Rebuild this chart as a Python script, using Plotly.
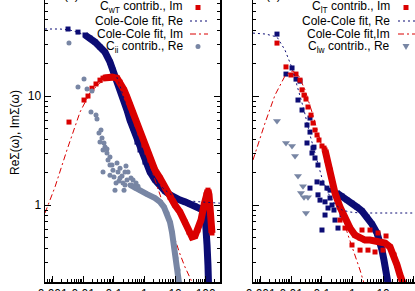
"""
Two-panel log-log plot of Re/Im Sigma(omega) contributions with Cole-Cole fits.
"""

import plotly.graph_objects as go

NAVY = "#0c0c74"
RED = "#da0000"
GREY = "#7886a4"

# ---------------- panel (a) ----------------
# C_wT contribution, Re (navy squares): sparse points + dense band
a_re_w = [0.00318, 0.00673]
a_re_v = [41.2, 38.6]
a_re_band_w = [0.0114, 0.0166, 0.0242, 0.0352, 0.0514, 0.0748, 0.0937, 0.127, 0.159, 0.199,
               0.269, 0.337, 0.423, 0.571, 0.716, 1.04, 1.52, 2.21, 3.22, 4.70,
               6.84, 9.96, 14.5, 21.1, 30.8, 44.9, 65.3, 81.8, 95.2, 103,
               111, 119, 124]
a_re_band_v = [36.3, 34.0, 31.3, 28.2, 25.3, 20.5, 17.3, 14.0, 11.8, 9.79,
               7.44, 6.02, 5.09, 3.78, 3.20, 2.48, 2.01, 1.70, 1.49, 1.34,
               1.24, 1.16, 1.11, 1.07, 1.02, 0.979, 0.939, 0.900, 0.827, 0.656,
               0.430, 0.282, 0.19]

# C_wT contribution, Im (red squares)
a_im_w = [0.00342, 0.0106, 0.0143, 0.0193, 0.0261, 0.0352]
a_im_v = [5.77, 9.19, 10.0, 11.8, 12.9, 14.0]
a_im_band_w = [0.0442, 0.0597, 0.0870, 0.127, 0.159, 0.215, 0.269, 0.337, 0.423, 0.571,
               0.716, 0.966, 1.21, 1.52, 2.21, 3.22, 4.70, 6.84, 9.96, 14.5,
               21.1, 28.6, 35.8, 44.9, 56.2, 70.5, 88.3, 103, 119, 129,
               139, 150, 161]
a_im_band_v = [14.6, 14.9, 14.9, 14.6, 13.4, 11.4, 9.79, 8.27, 6.98, 5.53,
               4.58, 3.55, 3.06, 2.59, 2.09, 1.77, 1.43, 1.18, 1.00, 0.863,
               0.698, 0.565, 0.509, 0.520, 0.590, 0.728, 1.00, 1.24, 1.37, 1.24,
               0.958, 0.728, 0.554]

# Cole-Cole fits
a_refit_w = [0.000562, 0.00174, 0.00369, 0.00784, 0.0166, 0.0352, 0.0644, 0.109, 0.159, 0.231,
             0.337, 0.491, 0.716, 1.04, 1.52, 2.21, 3.22, 4.70, 6.84, 9.96,
             14.5, 30.8, 65.3, 139, 294]
a_refit_v = [41.2, 41.2, 40.3, 37.8, 34.0, 28.7, 22.8, 16.6, 12.4, 8.81,
             6.28, 4.48, 3.33, 2.59, 2.09, 1.77, 1.53, 1.37, 1.26, 1.18,
             1.14, 1.09, 1.07, 1.05, 1.04]
a_imfit_w = [0.000562, 0.00119, 0.00294, 0.00784, 0.0166, 0.0352, 0.0748, 0.127, 0.199, 0.337,
             0.491, 0.716, 1.04, 1.52, 2.21, 3.22, 4.70, 6.84, 9.96, 14.5,
             21.1, 30.8, 38.6]
a_imfit_v = [0.845, 1.46, 3.20, 7.13, 10.7, 13.2, 14.3, 14.0, 11.8, 8.63,
             6.28, 4.39, 3.20, 2.33, 1.70, 1.24, 0.900, 0.656, 0.477, 0.355,
             0.270, 0.214, 0.188]

# C_ii contribution, Re (grey circles)
a_ii_w = [0.00342, 0.0106, 0.00673, 0.0133, 0.0193, 0.0179, 0.0261, 0.0281, 0.0380, 0.0327,
          0.0410, 0.0476, 0.0514, 0.0597, 0.0352, 0.0442, 0.0597, 0.0748, 0.0870, 0.0442,
          0.127, 0.109, 0.0937, 0.137, 0.159, 0.185, 0.231, 0.269, 0.199, 0.147,
          0.0748, 0.0644, 0.101, 0.249, 0.290, 0.363, 0.231, 0.423, 0.159, 0.118,
          0.530, 0.615, 0.215, 0.0748]
a_ii_v = [30.6, 14.3, 12.1, 11.6, 11.1, 7.13, 6.69, 6.15, 4.88, 4.58,
          4.12, 3.71, 3.40, 3.26, 3.78, 3.20, 3.00, 2.76, 2.33, 2.01,
          2.43, 1.37, 2.09, 2.01, 2.18, 1.85, 2.01, 1.70, 1.59, 1.66,
          2.33, 2.59, 1.81, 2.28, 2.01, 1.77, 1.53, 1.70, 1.77, 1.59,
          1.59, 1.49, 1.37, 1.88]
a_ii_band_w = [0.337, 0.491, 0.716, 1.21, 2.21, 3.22, 4.36, 5.46, 6.84, 7.94, 9.24, 10.7, 12.5, 13.5]
a_ii_band_v = [1.53, 1.43, 1.37, 1.26, 1.16, 1.07, 0.958, 0.845, 0.698, 0.565, 0.430, 0.327, 0.253, 0.192]

# ---------------- panel (b) ----------------
b_re_w = [0.00342, 0.00673, 0.0106, 0.0143, 0.0193, 0.0166, 0.0225, 0.0327, 0.0410, 0.0410,
          0.0553, 0.0327, 0.0514, 0.0476, 0.0597, 0.0748, 0.0695, 0.101, 0.147, 0.0870,
          0.127, 0.185, 0.215, 0.127, 0.269, 0.101, 0.337, 0.0410, 0.185, 0.249,
          0.159, 0.0748, 0.455]
b_re_v = [37.0, 15.9, 18.1, 14.3, 13.7, 9.19, 7.44, 5.42, 6.28, 4.67,
          3.40, 3.71, 3.33, 3.00, 2.70, 2.33, 1.63, 1.59, 1.43, 1.11,
          1.07, 1.16, 1.00, 0.810, 0.728, 0.590, 0.615, 1.43, 1.37, 0.900,
          0.939, 1.24, 0.810]
b_re_band_w = [0.313, 0.455, 0.664, 0.966, 1.41, 2.05, 2.99, 4.36, 6.34, 7.94, 9.24, 10.7, 12.5, 14.5]
b_re_band_v = [1.29, 1.21, 1.11, 1.04, 0.958, 0.881, 0.776, 0.669, 0.554, 0.458, 0.386, 0.313, 0.253, 0.192]

b_im_w = [0.00342, 0.00673, 0.00982, 0.0143, 0.0193, 0.0225, 0.0261, 0.0303, 0.0352, 0.0442,
          0.0514, 0.0597, 0.0695, 0.0806, 0.101, 0.118, 0.966, 1.77, 3.22, 5.46,
          9.96, 2.05, 3.75, 6.84, 12.5, 0.571, 0.392]
b_im_v = [30.6, 18.5, 15.6, 15.9, 14.0, 11.4, 10.2, 9.38, 7.93, 6.69,
          5.65, 4.88, 4.39, 3.95, 3.48, 3.33, 0.430, 0.386, 0.386, 0.371,
          0.386, 0.590, 0.590, 0.554, 0.520, 0.615, 0.728]
b_im_band_w = [0.127, 0.147, 0.185, 0.215, 0.269, 0.392, 0.571, 0.832, 1.21, 1.77,
               2.57, 3.75, 5.46, 7.94, 11.6, 16.9, 22.8, 28.6, 35.8, 44.9]
b_im_band_v = [3.20, 2.59, 2.09, 1.70, 1.29, 0.958, 0.760, 0.615, 0.531, 0.498,
               0.477, 0.477, 0.467, 0.458, 0.448, 0.412, 0.348, 0.282, 0.228, 0.192]

b_refit_w = [0.000562, 0.00150, 0.00342, 0.00625, 0.0106, 0.0166, 0.0261, 0.0410, 0.0644, 0.101,
             0.159, 0.269, 0.455, 0.832, 1.77, 294]
b_refit_v = [37.8, 37.0, 34.8, 26.4, 18.1, 11.8, 7.44, 4.39, 2.70, 1.77,
             1.29, 1.02, 0.900, 0.863, 0.845, 0.845]
b_imfit_w = [0.000562, 0.00139, 0.00294, 0.00625, 0.0106, 0.0166, 0.0281, 0.0476, 0.0870, 0.159,
             0.269, 0.455, 0.716, 1.21, 1.77, 2.38]
b_imfit_v = [2.59, 5.65, 10.2, 15.3, 17.0, 15.9, 11.4, 7.13, 3.95, 2.18,
             1.29, 0.810, 0.531, 0.348, 0.253, 0.192]

b_iw_w = [0.00342, 0.00673, 0.0106, 0.0133, 0.0166, 0.0242, 0.0208, 0.0261, 0.0352, 0.0303]
b_iw_v = [5.90, 3.71, 3.48, 2.82, 1.85, 1.49, 1.29, 1.18, 1.18, 0.845]

x_tickvals = [0.001, 0.01, 0.1, 1, 10, 100]
x_ticktext = ["0.001", "0.01", "0.1", "1", "10", "100"]

legend_a = ["C<sub>wT</sub> contrib., Re", "C<sub>wT</sub> contrib., Im",
            "Cole-Cole fit, Re", "Cole-Cole fit, Im", "C<sub>ii</sub> contrib., Re"]
legend_b = ["C<sub>lT</sub> contrib., Re", "C<sub>lT</sub> contrib., Im",
            "Cole-Cole fit, Re", "Cole-Cole fit,Im", "C<sub>lw</sub> contrib., Re"]

W, H, B = 415, 291, 9


def pxx(x):
    return x / W


def pxy(y):
    return (H - B - y) / (H - B)


def pts(w, v, color, symbol, size, xa, ya):
    return go.Scatter(x=w, y=v, mode="markers", xaxis=xa, yaxis=ya,
                      marker=dict(symbol=symbol, size=size, color=color, line=dict(width=0)))


def band(w, v, color, symbol, width, xa, ya):
    return go.Scatter(x=w, y=v, mode="lines+markers", xaxis=xa, yaxis=ya,
                      line=dict(color=color, width=width),
                      marker=dict(symbol=symbol, size=5, color=color, line=dict(width=0)))


def fit(w, v, color, dash, xa, ya):
    return go.Scatter(x=w, y=v, mode="lines", xaxis=xa, yaxis=ya,
                      line=dict(color=color, width=1, dash=dash))


DOT = "2px,3px"
DASHDOT = "6px,3px,2px,3px"

fig = go.Figure()
# panel (a)
fig.add_trace(pts(a_re_w, a_re_v, NAVY, "square", 5, "x", "y"))
fig.add_trace(band(a_re_band_w, a_re_band_v, NAVY, "square", 7, "x", "y"))
fig.add_trace(pts(a_im_w, a_im_v, RED, "square", 5, "x", "y"))
fig.add_trace(band(a_im_band_w, a_im_band_v, RED, "square", 7, "x", "y"))
fig.add_trace(fit(a_refit_w, a_refit_v, NAVY, DOT, "x", "y"))
fig.add_trace(fit(a_imfit_w, a_imfit_v, RED, DASHDOT, "x", "y"))
fig.add_trace(pts(a_ii_w, a_ii_v, GREY, "circle", 5, "x", "y"))
fig.add_trace(band(a_ii_band_w, a_ii_band_v, GREY, "circle", 6, "x", "y"))
# panel (b)
fig.add_trace(pts(b_re_w, b_re_v, NAVY, "square", 5, "x2", "y2"))
fig.add_trace(band(b_re_band_w, b_re_band_v, NAVY, "square", 7, "x2", "y2"))
fig.add_trace(pts(b_im_w, b_im_v, RED, "square", 5, "x2", "y2"))
fig.add_trace(band(b_im_band_w, b_im_band_v, RED, "square", 7, "x2", "y2"))
fig.add_trace(fit(b_refit_w, b_refit_v, NAVY, DOT, "x2", "y2"))
fig.add_trace(fit(b_imfit_w, b_imfit_v, RED, DASHDOT, "x2", "y2"))
fig.add_trace(pts(b_iw_w, b_iw_v, GREY, "triangle-down", 7, "x2", "y2"))

axis = dict(type="log", showgrid=False, zeroline=False, showline=True,
            linecolor="black", linewidth=1.5, ticks="inside", ticklen=6,
            tickwidth=1, tickcolor="black", automargin=False,
            tickfont=dict(size=12, color="black"),
            minor=dict(ticks="inside", ticklen=3, tickcolor="black", tickwidth=1,
                       dtick="D1", showgrid=False))

x_range = [-3.25, 2.469]
y_range = [-0.706, 1.881]

fig.update_layout(
    width=W, height=H,
    template="none",
    margin=dict(l=0, r=0, t=0, b=B, autoexpand=False),
    paper_bgcolor="white", plot_bgcolor="white",
    showlegend=False,
    hovermode=False,
    font=dict(family="Liberation Sans, Arial, sans-serif", size=12, color="black"),
    xaxis=dict(axis, domain=[45 / W, 220 / W], range=x_range,
               tickvals=x_tickvals, ticktext=x_ticktext, anchor="y"),
    yaxis=dict(axis, domain=[0, 1], range=y_range, dtick=1, mirror="ticks", anchor="x"),
    xaxis2=dict(axis, domain=[253 / W, 1], range=[-3.25, 2.044],
                tickvals=x_tickvals, ticktext=x_ticktext, anchor="y2"),
    yaxis2=dict(axis, domain=[0, 1], range=y_range, dtick=1, showticklabels=False, anchor="x2"),
)

# legends drawn gnuplot-style: text right-aligned, key on the right
rows = [-6, 7.5, 21, 34, 46.5]
for labels, text_x, key_x, last in ((legend_a, 185, 198, "circle"), (legend_b, 392, 406, "tri")):
    for i, (label, row) in enumerate(zip(labels, rows)):
        fig.add_annotation(text=label, x=pxx(text_x), y=pxy(row), xref="paper", yref="paper",
                           xanchor="right", yanchor="middle", showarrow=False,
                           font=dict(size=12, color="black"))
        kx, ky = key_x, row
        if i in (0, 1):
            color = NAVY if i == 0 else RED
            fig.add_shape(type="rect", xref="paper", yref="paper",
                          x0=pxx(kx - 2.5), x1=pxx(kx + 2.5), y0=pxy(ky + 2.5), y1=pxy(ky - 2.5),
                          fillcolor=color, line=dict(width=0))
        elif i in (2, 3):
            color = NAVY if i == 2 else RED
            fig.add_shape(type="line", xref="paper", yref="paper",
                          x0=pxx(kx - 8), x1=pxx(kx + 10), y0=pxy(ky), y1=pxy(ky),
                          line=dict(color=color, width=1, dash=DOT if i == 2 else DASHDOT))
        elif last == "circle":
            fig.add_shape(type="circle", xref="paper", yref="paper",
                          x0=pxx(kx - 2.5), x1=pxx(kx + 2.5), y0=pxy(ky + 2.5), y1=pxy(ky - 2.5),
                          fillcolor=GREY, line=dict(width=0))
        else:
            path = (f"M {pxx(kx - 3.5)},{pxy(ky - 2.5)} L {pxx(kx + 3.5)},{pxy(ky - 2.5)} "
                    f"L {pxx(kx)},{pxy(ky + 3.5)} Z")
            fig.add_shape(type="path", xref="paper", yref="paper", path=path,
                          fillcolor=GREY, line=dict(width=0))

# panel labels (mostly above the visible area)
for label, cx in (("(a)", 71), ("(b)", 273)):
    fig.add_annotation(text=label, x=pxx(cx), y=pxy(-5), xref="paper", yref="paper",
                       xanchor="center", yanchor="middle", showarrow=False,
                       font=dict(size=12, color="black"))

fig.add_annotation(text="ReΣ(ω), ImΣ(ω)", x=pxx(15), y=pxy(133), xref="paper", yref="paper",
                   xanchor="center", yanchor="middle", textangle=-90, showarrow=False,
                   font=dict(size=12, color="black"))

# the page's default 8px body margin would shift the whole figure
fig.write_html("out.html", config={"displayModeBar": False, "staticPlot": True},
               post_script="document.body.style.margin='0';"
                           "document.body.style.overflow='hidden';")
